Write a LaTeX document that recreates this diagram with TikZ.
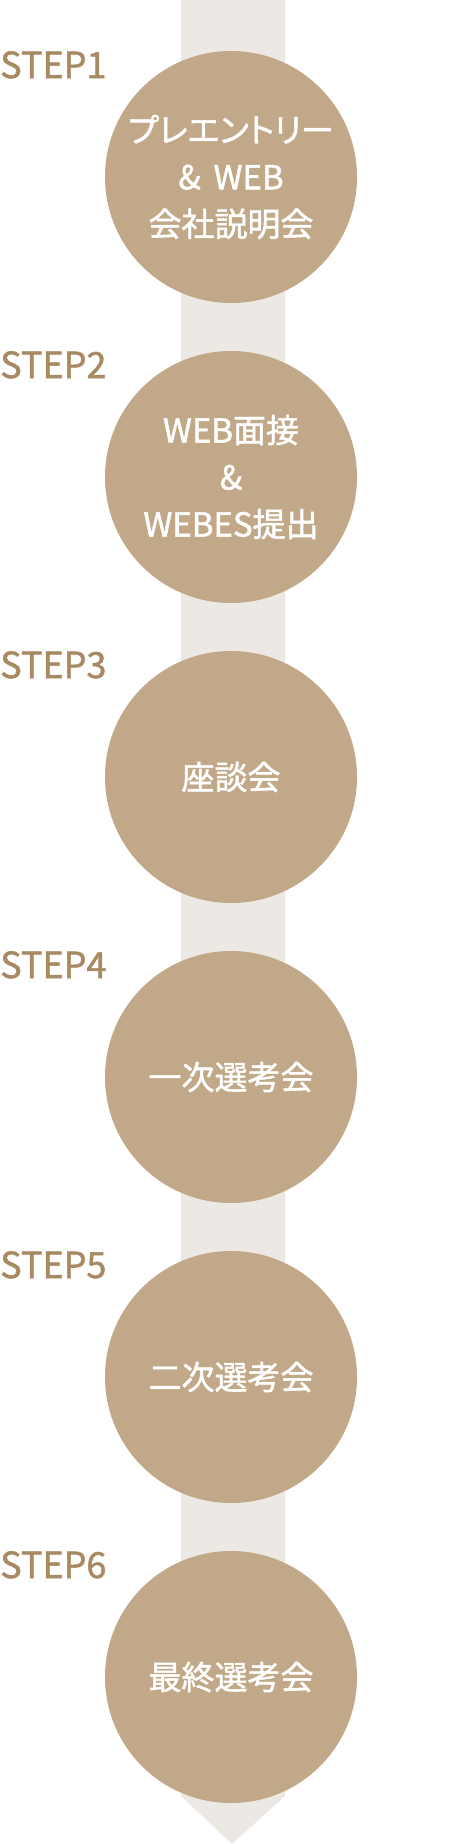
\documentclass[tikz,border=0pt]{standalone}
\usepackage{fontspec}
\setmainfont{Noto Sans CJK JP}[FakeBold=1.4]
\newfontfamily\paltfont{Noto Sans CJK JP}[RawFeature=+palt,FakeBold=1.4]
\definecolor{bandgray}{HTML}{ECE9E4}
\definecolor{circlebrown}{HTML}{C1A888}
\definecolor{steplabel}{HTML}{A88A62}
\begin{document}
\begin{tikzpicture}[x=1pt,y=-1pt,
  stepcircle/.style={circle,fill=circlebrown,minimum size=252pt,inner sep=0pt,
    text=white,align=center,font=\fontsize{33}{47}\selectfont},
  steplbl/.style={anchor=base west,inner sep=0pt,text=steplabel,
    font=\fontsize{36}{40}\selectfont}]
\useasboundingbox (0,0) rectangle (464,1844);
% band with arrow point
\fill[bandgray] (181,0) -- (285,0) -- (285,1796) -- (232,1844) -- (181,1796) -- cycle;
% circles
\node[stepcircle] (c1) at (231,177) {{\paltfont プレエントリー}\\\& \,WEB\\会社説明会};
\node[stepcircle] (c2) at (231,477) {WEB面接\\\&\\WEBES提出};
\node[stepcircle] (c3) at (231,777) {座談会};
\node[stepcircle] (c4) at (231,1077) {一次選考会};
\node[stepcircle] (c5) at (231,1377) {二次選考会};
\node[stepcircle] (c6) at (231,1677) {最終選考会};
% labels
\node[steplbl] (s1) at (0,78) {STEP1};
\node[steplbl] (s2) at (0,378) {STEP2};
\node[steplbl] (s3) at (0,678) {STEP3};
\node[steplbl] (s4) at (0,978) {STEP4};
\node[steplbl] (s5) at (0,1278) {STEP5};
\node[steplbl] (s6) at (0,1578) {STEP6};
\end{tikzpicture}
\end{document}
